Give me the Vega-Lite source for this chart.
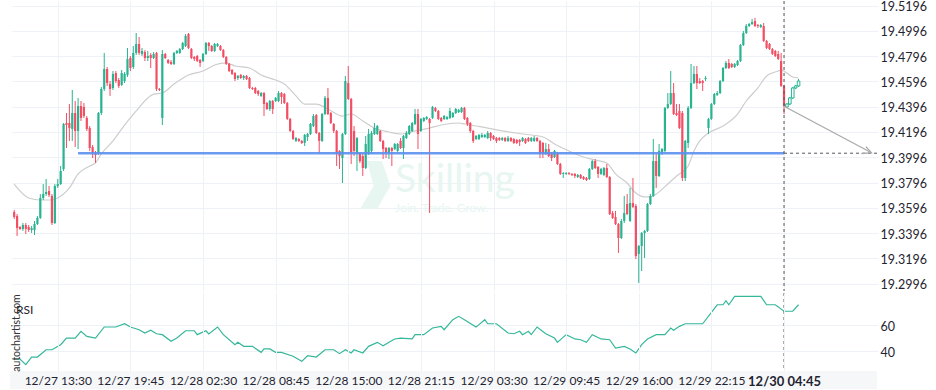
{
"$schema":"https://vega.github.io/schema/vega-lite/v6.json",
"padding":{"left":10,"top":0,"right":0,"bottom":0},
"spacing":0,
"config":{"view":{"stroke":null},"font":"Lato","text":{"font":"Lato"},"axis":{"labelFont":"Lato","labelOverlap":false},"scale":{"continuousPadding":0}},
"datasets":{
"candles":[
{"i":-15,"o":19.3563,"h":19.3579,"l":19.3508,"c":19.3523},
{"i":-14,"o":19.3531,"h":19.3547,"l":19.3373,"c":19.3436},
{"i":-13,"o":19.3444,"h":19.3452,"l":19.3421,"c":19.3429},
{"i":-12,"o":19.3429,"h":19.3476,"l":19.3413,"c":19.3460},
{"i":-11,"o":19.3460,"h":19.3476,"l":19.3389,"c":19.3429},
{"i":-10,"o":19.3444,"h":19.3460,"l":19.3405,"c":19.3421},
{"i":-9,"o":19.3421,"h":19.3452,"l":19.3397,"c":19.3436},
{"i":-8,"o":19.3421,"h":19.3492,"l":19.3381,"c":19.3468},
{"i":-7,"o":19.3468,"h":19.3531,"l":19.3460,"c":19.3516},
{"i":-6,"o":19.3516,"h":19.3705,"l":19.3508,"c":19.3674},
{"i":-5,"o":19.3674,"h":19.3784,"l":19.3658,"c":19.3705},
{"i":-4,"o":19.3705,"h":19.3824,"l":19.3690,"c":19.3721},
{"i":-3,"o":19.3729,"h":19.3769,"l":19.3682,"c":19.3697},
{"i":-2,"o":19.3690,"h":19.3705,"l":19.3460,"c":19.3476},
{"i":-1,"o":19.3476,"h":19.3784,"l":19.3468,"c":19.3769},
{"i":0,"o":19.3769,"h":19.3824,"l":19.3753,"c":19.3784},
{"i":1,"o":19.3784,"h":19.3927,"l":19.3777,"c":19.3887},
{"i":2,"o":19.3903,"h":19.4267,"l":19.3887,"c":19.4259},
{"i":3,"o":19.4267,"h":19.4346,"l":19.4069,"c":19.4251},
{"i":4,"o":19.4267,"h":19.4417,"l":19.4125,"c":19.4227},
{"i":5,"o":19.4220,"h":19.4528,"l":19.4125,"c":19.4346},
{"i":6,"o":19.4346,"h":19.4441,"l":19.4077,"c":19.4204},
{"i":7,"o":19.4204,"h":19.4465,"l":19.4061,"c":19.4401},
{"i":8,"o":19.4401,"h":19.4441,"l":19.4283,"c":19.4307},
{"i":9,"o":19.4394,"h":19.4425,"l":19.4307,"c":19.4322},
{"i":10,"o":19.4307,"h":19.4322,"l":19.4204,"c":19.4220},
{"i":11,"o":19.4227,"h":19.4243,"l":19.4046,"c":19.4069},
{"i":12,"o":19.4077,"h":19.4093,"l":19.3990,"c":19.4030},
{"i":13,"o":19.4030,"h":19.4046,"l":19.3951,"c":19.4014},
{"i":14,"o":19.4030,"h":19.4354,"l":19.4014,"c":19.4346},
{"i":15,"o":19.4346,"h":19.4552,"l":19.4330,"c":19.4536},
{"i":16,"o":19.4536,"h":19.4821,"l":19.4520,"c":19.4694},
{"i":17,"o":19.4694,"h":19.4710,"l":19.4560,"c":19.4583},
{"i":18,"o":19.4575,"h":19.4599,"l":19.4481,"c":19.4536},
{"i":19,"o":19.4544,"h":19.4678,"l":19.4528,"c":19.4655},
{"i":20,"o":19.4662,"h":19.4678,"l":19.4583,"c":19.4599},
{"i":21,"o":19.4607,"h":19.4623,"l":19.4544,"c":19.4560},
{"i":22,"o":19.4568,"h":19.4686,"l":19.4560,"c":19.4662},
{"i":23,"o":19.4599,"h":19.4670,"l":19.4583,"c":19.4655},
{"i":24,"o":19.4647,"h":19.4860,"l":19.4631,"c":19.4773},
{"i":25,"o":19.4781,"h":19.4797,"l":19.4678,"c":19.4702},
{"i":26,"o":19.4710,"h":19.4876,"l":19.4694,"c":19.4821},
{"i":27,"o":19.4821,"h":19.4979,"l":19.4805,"c":19.4892},
{"i":28,"o":19.4892,"h":19.4947,"l":19.4805,"c":19.4821},
{"i":29,"o":19.4813,"h":19.4860,"l":19.4797,"c":19.4837},
{"i":30,"o":19.4829,"h":19.4844,"l":19.4757,"c":19.4781},
{"i":31,"o":19.4781,"h":19.4837,"l":19.4757,"c":19.4797},
{"i":32,"o":19.4805,"h":19.4821,"l":19.4702,"c":19.4781},
{"i":33,"o":19.4781,"h":19.4829,"l":19.4773,"c":19.4813},
{"i":34,"o":19.4821,"h":19.4829,"l":19.4520,"c":19.4536},
{"i":35,"o":19.4536,"h":19.4544,"l":19.4520,"c":19.4528},
{"i":36,"o":19.4307,"h":19.4844,"l":19.4251,"c":19.4813},
{"i":37,"o":19.4813,"h":19.4821,"l":19.4773,"c":19.4781},
{"i":38,"o":19.4765,"h":19.4773,"l":19.4734,"c":19.4742},
{"i":39,"o":19.4749,"h":19.4765,"l":19.4726,"c":19.4734},
{"i":40,"o":19.4734,"h":19.4829,"l":19.4726,"c":19.4821},
{"i":41,"o":19.4821,"h":19.4844,"l":19.4813,"c":19.4837},
{"i":42,"o":19.4821,"h":19.4860,"l":19.4813,"c":19.4852},
{"i":43,"o":19.4852,"h":19.4908,"l":19.4844,"c":19.4900},
{"i":44,"o":19.4876,"h":19.4971,"l":19.4868,"c":19.4955},
{"i":45,"o":19.4971,"h":19.4979,"l":19.4852,"c":19.4860},
{"i":46,"o":19.4852,"h":19.4860,"l":19.4773,"c":19.4781},
{"i":47,"o":19.4789,"h":19.4797,"l":19.4757,"c":19.4773},
{"i":48,"o":19.4797,"h":19.4805,"l":19.4749,"c":19.4757},
{"i":49,"o":19.4765,"h":19.4773,"l":19.4710,"c":19.4742},
{"i":50,"o":19.4757,"h":19.4821,"l":19.4749,"c":19.4813},
{"i":51,"o":19.4813,"h":19.4908,"l":19.4805,"c":19.4900},
{"i":52,"o":19.4900,"h":19.4908,"l":19.4837,"c":19.4876},
{"i":53,"o":19.4876,"h":19.4884,"l":19.4829,"c":19.4837},
{"i":54,"o":19.4837,"h":19.4900,"l":19.4829,"c":19.4892},
{"i":55,"o":19.4876,"h":19.4900,"l":19.4868,"c":19.4892},
{"i":56,"o":19.4876,"h":19.4884,"l":19.4837,"c":19.4844},
{"i":57,"o":19.4844,"h":19.4852,"l":19.4781,"c":19.4789},
{"i":58,"o":19.4789,"h":19.4797,"l":19.4726,"c":19.4734},
{"i":59,"o":19.4734,"h":19.4742,"l":19.4670,"c":19.4678},
{"i":60,"o":19.4686,"h":19.4694,"l":19.4647,"c":19.4655},
{"i":61,"o":19.4662,"h":19.4670,"l":19.4599,"c":19.4615},
{"i":62,"o":19.4623,"h":19.4647,"l":19.4607,"c":19.4639},
{"i":63,"o":19.4647,"h":19.4655,"l":19.4615,"c":19.4623},
{"i":64,"o":19.4623,"h":19.4647,"l":19.4607,"c":19.4639},
{"i":65,"o":19.4639,"h":19.4647,"l":19.4607,"c":19.4615},
{"i":66,"o":19.4623,"h":19.4631,"l":19.4536,"c":19.4544},
{"i":67,"o":19.4544,"h":19.4552,"l":19.4528,"c":19.4536},
{"i":68,"o":19.4544,"h":19.4552,"l":19.4496,"c":19.4504},
{"i":69,"o":19.4520,"h":19.4528,"l":19.4481,"c":19.4496},
{"i":70,"o":19.4481,"h":19.4512,"l":19.4473,"c":19.4504},
{"i":71,"o":19.4504,"h":19.4512,"l":19.4322,"c":19.4417},
{"i":72,"o":19.4425,"h":19.4433,"l":19.4370,"c":19.4378},
{"i":73,"o":19.4378,"h":19.4449,"l":19.4362,"c":19.4441},
{"i":74,"o":19.4441,"h":19.4449,"l":19.4338,"c":19.4378},
{"i":75,"o":19.4441,"h":19.4473,"l":19.4433,"c":19.4465},
{"i":76,"o":19.4441,"h":19.4520,"l":19.4433,"c":19.4504},
{"i":77,"o":19.4504,"h":19.4512,"l":19.4417,"c":19.4473},
{"i":78,"o":19.4496,"h":19.4504,"l":19.4417,"c":19.4425},
{"i":79,"o":19.4425,"h":19.4433,"l":19.4291,"c":19.4299},
{"i":80,"o":19.4299,"h":19.4307,"l":19.4196,"c":19.4204},
{"i":81,"o":19.4204,"h":19.4212,"l":19.4133,"c":19.4140},
{"i":82,"o":19.4125,"h":19.4156,"l":19.4117,"c":19.4148},
{"i":83,"o":19.4140,"h":19.4148,"l":19.4117,"c":19.4125},
{"i":84,"o":19.4125,"h":19.4133,"l":19.4101,"c":19.4109},
{"i":85,"o":19.4109,"h":19.4180,"l":19.4085,"c":19.4172},
{"i":86,"o":19.4156,"h":19.4188,"l":19.4125,"c":19.4180},
{"i":87,"o":19.4180,"h":19.4267,"l":19.4172,"c":19.4259},
{"i":88,"o":19.4243,"h":19.4338,"l":19.4235,"c":19.4322},
{"i":89,"o":19.4330,"h":19.4338,"l":19.4180,"c":19.4188},
{"i":90,"o":19.4188,"h":19.4196,"l":19.4030,"c":19.4125},
{"i":91,"o":19.4125,"h":19.4346,"l":19.4117,"c":19.4338},
{"i":92,"o":19.4338,"h":19.4481,"l":19.4330,"c":19.4465},
{"i":93,"o":19.4465,"h":19.4544,"l":19.4330,"c":19.4338},
{"i":94,"o":19.4346,"h":19.4354,"l":19.4259,"c":19.4267},
{"i":95,"o":19.4259,"h":19.4267,"l":19.4188,"c":19.4204},
{"i":96,"o":19.4204,"h":19.4212,"l":19.3927,"c":19.4022},
{"i":97,"o":19.4046,"h":19.4053,"l":19.3903,"c":19.4006},
{"i":98,"o":19.3990,"h":19.4188,"l":19.3792,"c":19.4180},
{"i":99,"o":19.4180,"h":19.4639,"l":19.4172,"c":19.4599},
{"i":100,"o":19.4583,"h":19.4718,"l":19.4449,"c":19.4457},
{"i":101,"o":19.4457,"h":19.4465,"l":19.3943,"c":19.4030},
{"i":102,"o":19.4204,"h":19.4243,"l":19.4006,"c":19.4046},
{"i":103,"o":19.4022,"h":19.4156,"l":19.3887,"c":19.4148},
{"i":104,"o":19.4030,"h":19.4038,"l":19.3951,"c":19.3966},
{"i":105,"o":19.4006,"h":19.4022,"l":19.3848,"c":19.3911},
{"i":106,"o":19.3911,"h":19.4164,"l":19.3903,"c":19.4101},
{"i":107,"o":19.4022,"h":19.4220,"l":19.4014,"c":19.4180},
{"i":108,"o":19.4046,"h":19.4204,"l":19.4022,"c":19.4188},
{"i":109,"o":19.4180,"h":19.4267,"l":19.4172,"c":19.4227},
{"i":110,"o":19.4180,"h":19.4251,"l":19.4172,"c":19.4243},
{"i":111,"o":19.4204,"h":19.4212,"l":19.4117,"c":19.4125},
{"i":112,"o":19.4125,"h":19.4133,"l":19.3982,"c":19.4061},
{"i":113,"o":19.4069,"h":19.4077,"l":19.3990,"c":19.4030},
{"i":114,"o":19.4030,"h":19.4077,"l":19.3982,"c":19.4069},
{"i":115,"o":19.4069,"h":19.4077,"l":19.3927,"c":19.4046},
{"i":116,"o":19.4061,"h":19.4109,"l":19.4053,"c":19.4101},
{"i":117,"o":19.4046,"h":19.4109,"l":19.4038,"c":19.4101},
{"i":118,"o":19.4125,"h":19.4148,"l":19.4061,"c":19.4069},
{"i":119,"o":19.4069,"h":19.4172,"l":19.3982,"c":19.4164},
{"i":120,"o":19.4148,"h":19.4204,"l":19.4140,"c":19.4188},
{"i":121,"o":19.4180,"h":19.4251,"l":19.4172,"c":19.4243},
{"i":122,"o":19.4204,"h":19.4275,"l":19.4196,"c":19.4267},
{"i":123,"o":19.4259,"h":19.4378,"l":19.4251,"c":19.4338},
{"i":124,"o":19.4338,"h":19.4378,"l":19.4061,"c":19.4180},
{"i":125,"o":19.4204,"h":19.4307,"l":19.4196,"c":19.4299},
{"i":126,"o":19.4283,"h":19.4314,"l":19.4275,"c":19.4307},
{"i":127,"o":19.4299,"h":19.4322,"l":19.4291,"c":19.4314},
{"i":128,"o":19.4299,"h":19.4307,"l":19.3555,"c":19.4267},
{"i":129,"o":19.4307,"h":19.4401,"l":19.4299,"c":19.4394},
{"i":130,"o":19.4386,"h":19.4394,"l":19.4354,"c":19.4362},
{"i":131,"o":19.4362,"h":19.4370,"l":19.4291,"c":19.4299},
{"i":132,"o":19.4307,"h":19.4314,"l":19.4275,"c":19.4283},
{"i":133,"o":19.4299,"h":19.4330,"l":19.4291,"c":19.4322},
{"i":134,"o":19.4299,"h":19.4322,"l":19.4291,"c":19.4314},
{"i":135,"o":19.4307,"h":19.4386,"l":19.4299,"c":19.4362},
{"i":136,"o":19.4314,"h":19.4354,"l":19.4307,"c":19.4346},
{"i":137,"o":19.4346,"h":19.4386,"l":19.4338,"c":19.4378},
{"i":138,"o":19.4354,"h":19.4378,"l":19.4346,"c":19.4370},
{"i":139,"o":19.4354,"h":19.4394,"l":19.4346,"c":19.4386},
{"i":140,"o":19.4386,"h":19.4394,"l":19.4291,"c":19.4299},
{"i":141,"o":19.4307,"h":19.4314,"l":19.4243,"c":19.4259},
{"i":142,"o":19.4267,"h":19.4275,"l":19.4188,"c":19.4204},
{"i":143,"o":19.4204,"h":19.4212,"l":19.4109,"c":19.4125},
{"i":144,"o":19.4140,"h":19.4172,"l":19.4133,"c":19.4164},
{"i":145,"o":19.4140,"h":19.4180,"l":19.4133,"c":19.4172},
{"i":146,"o":19.4156,"h":19.4188,"l":19.4148,"c":19.4172},
{"i":147,"o":19.4156,"h":19.4180,"l":19.4148,"c":19.4172},
{"i":148,"o":19.4148,"h":19.4204,"l":19.4140,"c":19.4188},
{"i":149,"o":19.4188,"h":19.4196,"l":19.4125,"c":19.4148},
{"i":150,"o":19.4164,"h":19.4172,"l":19.4133,"c":19.4140},
{"i":151,"o":19.4148,"h":19.4156,"l":19.4109,"c":19.4125},
{"i":152,"o":19.4148,"h":19.4156,"l":19.4125,"c":19.4133},
{"i":153,"o":19.4133,"h":19.4156,"l":19.4125,"c":19.4148},
{"i":154,"o":19.4148,"h":19.4156,"l":19.4117,"c":19.4125},
{"i":155,"o":19.4125,"h":19.4164,"l":19.4117,"c":19.4148},
{"i":156,"o":19.4148,"h":19.4156,"l":19.4117,"c":19.4125},
{"i":157,"o":19.4140,"h":19.4148,"l":19.4101,"c":19.4109},
{"i":158,"o":19.4133,"h":19.4140,"l":19.4101,"c":19.4109},
{"i":159,"o":19.4133,"h":19.4140,"l":19.4085,"c":19.4117},
{"i":160,"o":19.4125,"h":19.4156,"l":19.4117,"c":19.4148},
{"i":161,"o":19.4140,"h":19.4148,"l":19.4101,"c":19.4109},
{"i":162,"o":19.4148,"h":19.4156,"l":19.4117,"c":19.4125},
{"i":163,"o":19.4125,"h":19.4156,"l":19.4117,"c":19.4148},
{"i":164,"o":19.4125,"h":19.4164,"l":19.4117,"c":19.4148},
{"i":165,"o":19.4148,"h":19.4156,"l":19.4117,"c":19.4125},
{"i":166,"o":19.4125,"h":19.4133,"l":19.3990,"c":19.4022},
{"i":167,"o":19.4109,"h":19.4117,"l":19.3990,"c":19.4022},
{"i":168,"o":19.4022,"h":19.4109,"l":19.4014,"c":19.4061},
{"i":169,"o":19.4061,"h":19.4101,"l":19.3998,"c":19.4006},
{"i":170,"o":19.4030,"h":19.4038,"l":19.3966,"c":19.3990},
{"i":171,"o":19.3998,"h":19.4053,"l":19.3990,"c":19.4046},
{"i":172,"o":19.4030,"h":19.4038,"l":19.3935,"c":19.3943},
{"i":173,"o":19.3943,"h":19.3951,"l":19.3856,"c":19.3864},
{"i":174,"o":19.3864,"h":19.3879,"l":19.3832,"c":19.3871},
{"i":175,"o":19.3864,"h":19.3879,"l":19.3856,"c":19.3871},
{"i":176,"o":19.3871,"h":19.3879,"l":19.3856,"c":19.3864},
{"i":177,"o":19.3864,"h":19.3871,"l":19.3848,"c":19.3856},
{"i":178,"o":19.3864,"h":19.3871,"l":19.3832,"c":19.3848},
{"i":179,"o":19.3840,"h":19.3864,"l":19.3832,"c":19.3856},
{"i":180,"o":19.3856,"h":19.3864,"l":19.3824,"c":19.3832},
{"i":181,"o":19.3840,"h":19.3848,"l":19.3816,"c":19.3824},
{"i":182,"o":19.3832,"h":19.3840,"l":19.3808,"c":19.3816},
{"i":183,"o":19.3824,"h":19.3911,"l":19.3816,"c":19.3903},
{"i":184,"o":19.3903,"h":19.3974,"l":19.3895,"c":19.3966},
{"i":185,"o":19.3966,"h":19.3982,"l":19.3903,"c":19.3911},
{"i":186,"o":19.3919,"h":19.3927,"l":19.3832,"c":19.3864},
{"i":187,"o":19.3864,"h":19.3911,"l":19.3856,"c":19.3903},
{"i":188,"o":19.3856,"h":19.3919,"l":19.3848,"c":19.3911},
{"i":189,"o":19.3911,"h":19.3943,"l":19.3832,"c":19.3840},
{"i":190,"o":19.3840,"h":19.3848,"l":19.3539,"c":19.3547},
{"i":191,"o":19.3555,"h":19.3571,"l":19.3508,"c":19.3516},
{"i":192,"o":19.3523,"h":19.3571,"l":19.3460,"c":19.3468},
{"i":193,"o":19.3468,"h":19.3476,"l":19.3239,"c":19.3357},
{"i":194,"o":19.3357,"h":19.3508,"l":19.3349,"c":19.3492},
{"i":195,"o":19.3492,"h":19.3690,"l":19.3476,"c":19.3555},
{"i":196,"o":19.3626,"h":19.3705,"l":19.3539,"c":19.3547},
{"i":197,"o":19.3492,"h":19.3753,"l":19.3484,"c":19.3634},
{"i":198,"o":19.3634,"h":19.3832,"l":19.3595,"c":19.3603},
{"i":199,"o":19.3610,"h":19.3626,"l":19.3191,"c":19.3215},
{"i":200,"o":19.3231,"h":19.3302,"l":19.3001,"c":19.3294},
{"i":201,"o":19.3294,"h":19.3405,"l":19.3096,"c":19.3397},
{"i":202,"o":19.3397,"h":19.3421,"l":19.3199,"c":19.3413},
{"i":203,"o":19.3413,"h":19.3634,"l":19.3405,"c":19.3626},
{"i":204,"o":19.3626,"h":19.3705,"l":19.3618,"c":19.3690},
{"i":205,"o":19.3690,"h":19.4140,"l":19.3682,"c":19.3966},
{"i":206,"o":19.3966,"h":19.4022,"l":19.3753,"c":19.3848},
{"i":207,"o":19.3848,"h":19.4101,"l":19.3840,"c":19.4046},
{"i":208,"o":19.4038,"h":19.4069,"l":19.4014,"c":19.4061},
{"i":209,"o":19.4046,"h":19.4394,"l":19.4038,"c":19.4386},
{"i":210,"o":19.4386,"h":19.4504,"l":19.4378,"c":19.4417},
{"i":211,"o":19.4417,"h":19.4678,"l":19.4409,"c":19.4504},
{"i":212,"o":19.4504,"h":19.4583,"l":19.4330,"c":19.4338},
{"i":213,"o":19.4346,"h":19.4417,"l":19.4322,"c":19.4330},
{"i":214,"o":19.4362,"h":19.4417,"l":19.4220,"c":19.4227},
{"i":215,"o":19.4346,"h":19.4362,"l":19.3808,"c":19.3832},
{"i":216,"o":19.3832,"h":19.4133,"l":19.3808,"c":19.4125},
{"i":217,"o":19.4109,"h":19.4401,"l":19.4069,"c":19.4386},
{"i":218,"o":19.4386,"h":19.4734,"l":19.4378,"c":19.4583},
{"i":219,"o":19.4583,"h":19.4718,"l":19.4575,"c":19.4655},
{"i":220,"o":19.4655,"h":19.4718,"l":19.4536,"c":19.4583},
{"i":221,"o":19.4599,"h":19.4623,"l":19.4575,"c":19.4583},
{"i":222,"o":19.4599,"h":19.4607,"l":19.4520,"c":19.4583},
{"i":223,"o":19.4615,"h":19.4639,"l":19.4599,"c":19.4623},
{"i":224,"o":19.4227,"h":19.4307,"l":19.4180,"c":19.4299},
{"i":225,"o":19.4299,"h":19.4425,"l":19.4291,"c":19.4417},
{"i":226,"o":19.4417,"h":19.4504,"l":19.4409,"c":19.4496},
{"i":227,"o":19.4488,"h":19.4520,"l":19.4481,"c":19.4504},
{"i":228,"o":19.4504,"h":19.4607,"l":19.4496,"c":19.4599},
{"i":229,"o":19.4599,"h":19.4710,"l":19.4591,"c":19.4702},
{"i":230,"o":19.4702,"h":19.4757,"l":19.4694,"c":19.4742},
{"i":231,"o":19.4742,"h":19.4773,"l":19.4694,"c":19.4702},
{"i":232,"o":19.4734,"h":19.4742,"l":19.4702,"c":19.4710},
{"i":233,"o":19.4710,"h":19.4742,"l":19.4702,"c":19.4734},
{"i":234,"o":19.4726,"h":19.4765,"l":19.4718,"c":19.4757},
{"i":235,"o":19.4757,"h":19.4892,"l":19.4749,"c":19.4884},
{"i":236,"o":19.4884,"h":19.4995,"l":19.4876,"c":19.4979},
{"i":237,"o":19.4979,"h":19.5050,"l":19.4971,"c":19.5034},
{"i":238,"o":19.5034,"h":19.5058,"l":19.5026,"c":19.5050},
{"i":239,"o":19.5050,"h":19.5090,"l":19.5042,"c":19.5066},
{"i":240,"o":19.5074,"h":19.5098,"l":19.5026,"c":19.5034},
{"i":241,"o":19.5042,"h":19.5050,"l":19.5018,"c":19.5034},
{"i":242,"o":19.5026,"h":19.5050,"l":19.5018,"c":19.5042},
{"i":243,"o":19.5034,"h":19.5058,"l":19.4908,"c":19.4916},
{"i":244,"o":19.4916,"h":19.4924,"l":19.4852,"c":19.4860},
{"i":245,"o":19.4892,"h":19.4900,"l":19.4844,"c":19.4852},
{"i":246,"o":19.4852,"h":19.4860,"l":19.4805,"c":19.4813},
{"i":247,"o":19.4837,"h":19.4844,"l":19.4789,"c":19.4797},
{"i":248,"o":19.4813,"h":19.4837,"l":19.4765,"c":19.4773},
{"i":249,"o":19.4757,"h":19.4821,"l":19.4552,"c":19.4560},
{"i":250,"o":19.4560,"h":19.4568,"l":19.4338,"c":19.4401},
{"i":251,"o":19.4394,"h":19.4425,"l":19.4386,"c":19.4417},
{"i":252,"o":19.4417,"h":19.4473,"l":19.4409,"c":19.4465},
{"i":253,"o":19.4465,"h":19.4552,"l":19.4457,"c":19.4544},
{"i":254,"o":19.4544,"h":19.4568,"l":19.4536,"c":19.4560},
{"i":255,"o":19.4560,"h":19.4615,"l":19.4552,"c":19.4599}
],
"ma":[
{"i":-15,"p":19.3784},{"i":-10,"p":19.3674},{"i":-6,"p":19.3658},{"i":-2,"p":19.3658},{"i":0,"p":19.3674},{"i":4,"p":19.3753},{"i":7,"p":19.3864},{"i":11,"p":19.3927},{"i":13,"p":19.3951},{"i":15,"p":19.4022},{"i":19,"p":19.4125},{"i":22,"p":19.4220},{"i":27,"p":19.4362},{"i":31,"p":19.4465},{"i":33,"p":19.4496},{"i":36,"p":19.4504},{"i":40,"p":19.4575},{"i":45,"p":19.4647},{"i":50,"p":19.4678},{"i":54,"p":19.4726},{"i":58,"p":19.4742},{"i":61,"p":19.4718},{"i":66,"p":19.4702},{"i":70,"p":19.4647},{"i":75,"p":19.4607},{"i":78,"p":19.4575},{"i":82,"p":19.4481},{"i":85,"p":19.4417},{"i":89,"p":19.4417},{"i":93,"p":19.4378},{"i":98,"p":19.4322},{"i":101,"p":19.4338},{"i":105,"p":19.4283},{"i":109,"p":19.4227},{"i":114,"p":19.4196},{"i":118,"p":19.4180},{"i":123,"p":19.4204},{"i":128,"p":19.4227},{"i":132,"p":19.4251},{"i":138,"p":19.4267},{"i":140,"p":19.4259},{"i":144,"p":19.4243},{"i":148,"p":19.4227},{"i":153,"p":19.4204},{"i":160,"p":19.4180},{"i":167,"p":19.4156},{"i":171,"p":19.4101},{"i":176,"p":19.4045},{"i":180,"p":19.4006},{"i":185,"p":19.3974},{"i":189,"p":19.3951},{"i":192,"p":19.3864},{"i":196,"p":19.3792},{"i":199,"p":19.3713},{"i":202,"p":19.3682},{"i":204,"p":19.3682},{"i":206,"p":19.3705},{"i":210,"p":19.3784},{"i":213,"p":19.3848},{"i":217,"p":19.3927},{"i":219,"p":19.4046},{"i":221,"p":19.4125},{"i":224,"p":19.4188},{"i":229,"p":19.4243},{"i":234,"p":19.4338},{"i":237,"p":19.4441},{"i":241,"p":19.4544},{"i":244,"p":19.4639},{"i":248,"p":19.4678},{"i":249,"p":19.4686},{"i":251,"p":19.4662},{"i":253,"p":19.4631},{"i":255,"p":19.4623}
],
"rsi":[
{"i":-15,"r":34.1},{"i":-13,"r":34.1},{"i":-11,"r":29.7},{"i":-9,"r":35.6},{"i":-7,"r":35.6},{"i":-4,"r":41.2},{"i":-2,"r":41.2},{"i":1,"r":45.1},{"i":3,"r":50.2},{"i":6,"r":50.2},{"i":8,"r":55.4},{"i":10,"r":51.5},{"i":13,"r":50.2},{"i":16,"r":58.7},{"i":20,"r":58.7},{"i":23,"r":61.2},{"i":25,"r":58.7},{"i":28,"r":56.6},{"i":30,"r":54.1},{"i":32,"r":56.2},{"i":34,"r":53.5},{"i":36,"r":52.8},{"i":39,"r":47.7},{"i":41,"r":50.2},{"i":44,"r":55.8},{"i":47,"r":55.8},{"i":48,"r":52.8},{"i":51,"r":55.8},{"i":52,"r":53.3},{"i":55,"r":58.7},{"i":57,"r":52.8},{"i":61,"r":45.1},{"i":62,"r":46.9},{"i":64,"r":43.8},{"i":67,"r":43.8},{"i":70,"r":39.2},{"i":71,"r":41.8},{"i":73,"r":41.8},{"i":75,"r":39.2},{"i":77,"r":39.2},{"i":81,"r":36.2},{"i":84,"r":32.3},{"i":86,"r":36.6},{"i":89,"r":35.6},{"i":92,"r":41.2},{"i":95,"r":41.2},{"i":97,"r":38.2},{"i":99,"r":41.2},{"i":101,"r":38.7},{"i":102,"r":41.2},{"i":105,"r":38.7},{"i":107,"r":43.8},{"i":110,"r":46.9},{"i":112,"r":44.3},{"i":114,"r":46.9},{"i":116,"r":49.5},{"i":118,"r":50.2},{"i":122,"r":49.5},{"i":123,"r":52.8},{"i":126,"r":52.8},{"i":129,"r":57.9},{"i":132,"r":59.2},{"i":133,"r":56.6},{"i":136,"r":64.3},{"i":138,"r":66.9},{"i":140,"r":64.3},{"i":144,"r":58.7},{"i":145,"r":60.5},{"i":147,"r":64.3},{"i":148,"r":61.2},{"i":151,"r":61.2},{"i":155,"r":54.1},{"i":157,"r":53.5},{"i":159,"r":55.4},{"i":160,"r":52.8},{"i":162,"r":55.4},{"i":163,"r":52.8},{"i":165,"r":58.7},{"i":168,"r":53.5},{"i":171,"r":50.2},{"i":172,"r":46.9},{"i":175,"r":52.8},{"i":178,"r":49.5},{"i":180,"r":48.9},{"i":182,"r":46.9},{"i":184,"r":52.8},{"i":187,"r":49.5},{"i":190,"r":48.9},{"i":192,"r":42.5},{"i":195,"r":43.8},{"i":197,"r":41.8},{"i":199,"r":38.7},{"i":201,"r":45.1},{"i":203,"r":49.5},{"i":206,"r":52.8},{"i":209,"r":52.8},{"i":211,"r":57.9},{"i":212,"r":56.2},{"i":214,"r":59.2},{"i":216,"r":61.2},{"i":222,"r":61.2},{"i":227,"r":75.8},{"i":229,"r":75.8},{"i":230,"r":78.9},{"i":231,"r":75.8},{"i":233,"r":82.3},{"i":242,"r":82.3},{"i":244,"r":75.8},{"i":247,"r":75.8},{"i":250,"r":70.8},{"i":253,"r":70.8},{"i":255,"r":75.8}
]
},
"vconcat":[
{
"width":866,"height":290,
"layer":[
{
"data":{"values":[{"i":109.3,"p":19.3777}]},
"mark":{"type":"point","shape":"M-0.35,-1L0.28,-1L0.63,0.04L0.07,1L-0.63,1L-0.07,0.04Z","size":2304,"filled":true,"color":"#e7f6f1","opacity":1,"strokeWidth":0},
"encoding":{
"x":{"field":"i","type":"quantitative","scale":{"domain":[-15.75,282.35],"nice":false,"zero":false,"padding":0},"axis":{"values":[0,25,50,75,100,125,150,175,200,225,250],"tickCount":30,"grid":true,"gridColor":"#eef1f6","labels":false,"ticks":false,"domain":false,"title":null}},
"y":{"field":"p","type":"quantitative","scale":{"domain":[19.2938,19.5232],"nice":false,"zero":false,"padding":0},"axis":{"orient":"right","values":[19.2996,19.3196,19.3396,19.3596,19.3796,19.3996,19.4196,19.4396,19.4596,19.4796,19.4996,19.5196],"tickCount":30,"format":".4f","grid":true,"gridColor":"#eef1f6","ticks":false,"domain":false,"labelPadding":2,"labelFontSize":12.5,"labelColor":"#1f2430","labelOffset":1,"labelOverlap":false,"labelFlush":false,"title":null}}
}
},
{
"data":{"values":[{"i":116.1,"p":19.3721,"t":"Skilling","s":39},{"i":116.1,"p":19.3560,"t":"Join. Trade. Grow.","s":12}]},
"mark":{"type":"text","align":"left","baseline":"alphabetic","color":"#e7f6f1"},
"encoding":{"x":{"field":"i","type":"quantitative"},"y":{"field":"p","type":"quantitative"},"text":{"field":"t"},"size":{"field":"s","type":"quantitative","scale":null}}
},
{
"data":{"name":"ma"},
"mark":{"type":"line","color":"#cdcdcd","strokeWidth":1.2,"interpolate":"monotone"},
"encoding":{"x":{"field":"i","type":"quantitative"},"y":{"field":"p","type":"quantitative"}}
},
{
"data":{"name":"candles"},
"mark":{"type":"rule","strokeWidth":1},
"encoding":{"x":{"field":"i","type":"quantitative"},"y":{"field":"l","type":"quantitative"},"y2":{"field":"h"},
"color":{"condition":{"test":"datum.c >= datum.o","value":"#29b391"},"value":"#f24e64"}}
},
{
"data":{"name":"candles"},
"transform":[{"filter":"datum.i <= 250"}],
"mark":{"type":"bar","size":2.2},
"encoding":{"x":{"field":"i","type":"quantitative"},"y":{"field":"o","type":"quantitative"},"y2":{"field":"c"},
"color":{"condition":{"test":"datum.c >= datum.o","value":"#29b391"},"value":"#f24e64"}}
},
{
"data":{"name":"candles"},
"transform":[{"filter":"datum.i > 250"}],
"mark":{"type":"bar","size":2.6,"fill":"#ffffff","stroke":"#29b391","strokeWidth":1},
"encoding":{"x":{"field":"i","type":"quantitative"},"y":{"field":"o","type":"quantitative"},"y2":{"field":"c"}}
},
{
"data":{"values":[{"i":7,"i2":250,"p":19.4028}]},
"mark":{"type":"rule","color":"#5b8ff0","strokeWidth":2.5,"opacity":0.9},
"encoding":{"x":{"field":"i","type":"quantitative"},"x2":{"field":"i2"},"y":{"field":"p","type":"quantitative"}}
},
{
"data":{"values":[{"i":250,"i2":282.35,"p":19.4028}]},
"mark":{"type":"rule","color":"#555555","strokeWidth":1,"strokeDash":[3,3]},
"encoding":{"x":{"field":"i","type":"quantitative"},"x2":{"field":"i2"},"y":{"field":"p","type":"quantitative"}}
},
{
"data":{"values":[{"i":250}]},
"mark":{"type":"rule","color":"#555555","strokeWidth":1,"strokeDash":[3,3]},
"encoding":{"x":{"field":"i","type":"quantitative"}}
},
{
"data":{"values":[{"g":"a","k":1,"i":250.5,"p":19.4394},{"g":"a","k":2,"i":280.1,"p":19.4032},{"g":"b","k":1,"i":278.2,"p":19.4079},{"g":"b","k":2,"i":280.1,"p":19.4032},{"g":"b","k":3,"i":276.6,"p":19.4024}]},
"mark":{"type":"line","color":"#a9a9a9","strokeWidth":1.2},
"encoding":{"x":{"field":"i","type":"quantitative"},"y":{"field":"p","type":"quantitative"},"detail":{"field":"g"},"order":{"field":"k"}}
}
]
},
{
"width":866,"height":78,
"layer":[
{
"data":{"values":[{"i":-16.4,"i2":282.0,"r":24.85,"r2":11.0}]},
"mark":{"type":"rect","color":"#f6f7f9"},
"encoding":{
"x":{"field":"i","type":"quantitative","scale":{"domain":[-15.75,282.35],"nice":false,"zero":false,"padding":0},"axis":{"values":[0,25,50,75,100,125,150,175,200,225,250],"tickCount":30,"labelExpr":"['12/27 13:30','12/27 19:45','12/28 02:30','12/28 08:45','12/28 15:00','12/28 21:15','12/29 03:30','12/29 09:45','12/29 16:00','12/29 22:15','12/30 04:45'][round(datum.value/25)]","grid":true,"gridColor":"#eef1f6","ticks":false,"domain":false,"labelPadding":4,"labelFontSize":{"condition":{"test":"datum.value == 250","value":13},"value":12},"labelFontWeight":{"condition":{"test":"datum.value == 250","value":"bold"},"value":"normal"},"labelColor":"#1f2430","labelOverlap":false,"labelFlush":false,"zindex":1,"title":null}},
"x2":{"field":"i2"},
"y":{"field":"r","type":"quantitative","scale":{"domain":[24.85,84.85],"nice":false,"zero":false,"padding":0},"axis":{"orient":"right","values":[40,60],"grid":true,"gridColor":"#eef1f6","ticks":false,"domain":false,"labelPadding":2,"labelFontSize":12.5,"labelColor":"#1f2430","labelOffset":1,"labelOverlap":false,"labelFlush":false,"title":null}},
"y2":{"field":"r2"}
}
},
{
"data":{"name":"rsi"},
"mark":{"type":"line","color":"#35b79a","strokeWidth":1.2},
"encoding":{"x":{"field":"i","type":"quantitative"},"y":{"field":"r","type":"quantitative"}}
},
{
"data":{"values":[{"i":250}]},
"mark":{"type":"rule","color":"#555555","strokeWidth":1,"strokeDash":[3,3]},
"encoding":{"x":{"field":"i","type":"quantitative"}}
},
{
"data":{"values":[{"i":-14.4,"r":71.8,"t":"RSI"}]},
"mark":{"type":"text","align":"left","baseline":"middle","fontSize":12,"color":"#1f2430"},
"encoding":{"x":{"field":"i","type":"quantitative"},"y":{"field":"r","type":"quantitative"},"text":{"field":"t"}}
},
{
"data":{"values":[{"i":-14.0,"r":54.1,"t":"autochartist.com"}]},
"mark":{"type":"text","align":"center","baseline":"middle","angle":270,"fontSize":10.5,"color":"#333333"},
"encoding":{"x":{"field":"i","type":"quantitative"},"y":{"field":"r","type":"quantitative"},"text":{"field":"t"}}
}
]
}
]
}
